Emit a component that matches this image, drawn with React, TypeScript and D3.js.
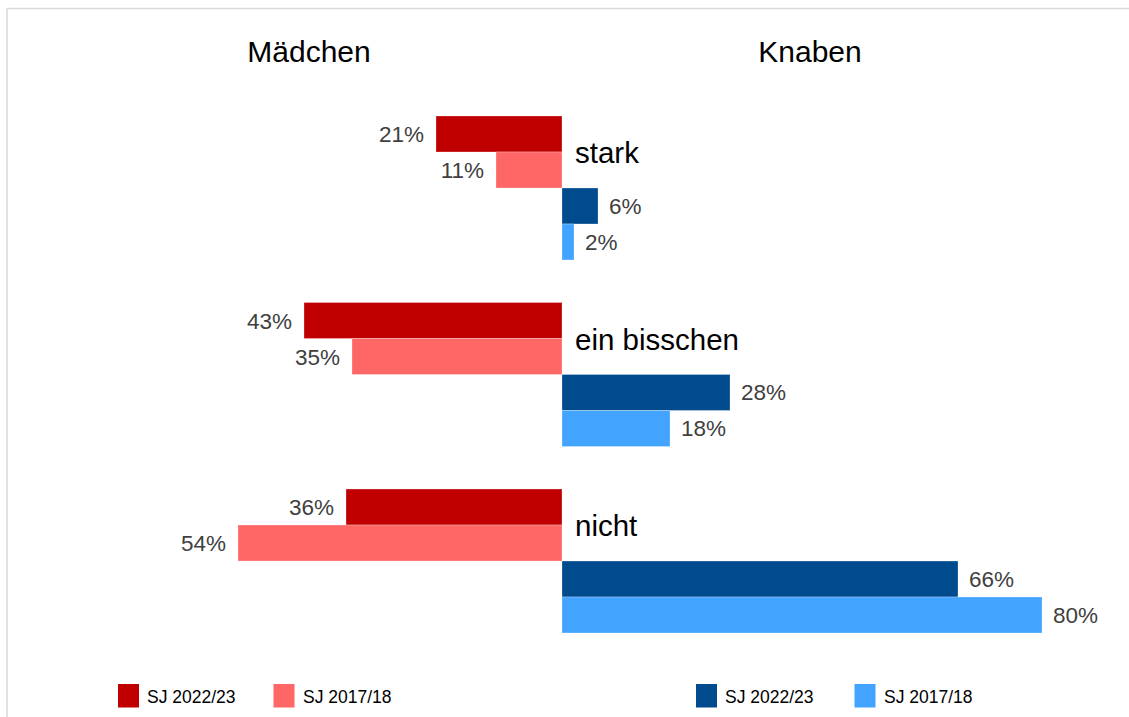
import React from "react";
import * as d3 from "d3";

const categories = ["stark", "ein bisschen", "nicht"];
const girls2223 = [21, 43, 36];
const girls1718 = [11, 35, 54];
const boys2223 = [6, 28, 66];
const boys1718 = [2, 18, 80];
const seriesNames = ["SJ 2022/23", "SJ 2017/18"];
const sideTitles = ["Mädchen", "Knaben"];

const W = 1129;
const H = 717;
const FONT = "'Liberation Sans', Arial, sans-serif";
const colors = { g1: "#C00000", g2: "#FF6666", b1: "#004A8E", b2: "#42A4FF" };

export default function App() {
  const x = d3.scaleLinear().domain([-80, 80]).range([82, 1042]);
  const y = d3.scaleBand<string>().domain(categories).range([116, 633]).paddingInner(0.228).paddingOuter(0);
  const barH = y.bandwidth() / 4;

  const rows = categories.map((c, i) => {
    const y0 = y(c)!;
    return [
      { v: -girls2223[i], color: colors.g1, y: y0 },
      { v: -girls1718[i], color: colors.g2, y: y0 + barH },
      { v: boys2223[i], color: colors.b1, y: y0 + 2 * barH },
      { v: boys1718[i], color: colors.b2, y: y0 + 3 * barH },
    ];
  });

  const legend = [
    { x: 118, tx: 147, color: colors.g1, label: seriesNames[0] },
    { x: 273.5, tx: 303, color: colors.g2, label: seriesNames[1] },
    { x: 696, tx: 725, color: colors.b1, label: seriesNames[0] },
    { x: 854.5, tx: 884, color: colors.b2, label: seriesNames[1] },
  ];

  return (
    <svg width={W} height={H} style={{ position: "absolute", left: 0, top: 0, fontFamily: FONT }}>
      <rect x={0} y={0} width={W} height={H} fill="#fff" />
      <line x1={7} x2={W} y1={8.5} y2={8.5} stroke="#d9d9d9" strokeWidth={1.5} />
      <line x1={7} x2={7} y1={8} y2={H} stroke="#d9d9d9" strokeWidth={1.5} />
      <text x={309} y={62} fontSize={30} textAnchor="middle" fill="#000">{sideTitles[0]}</text>
      <text x={810} y={62} fontSize={30} textAnchor="middle" fill="#000">{sideTitles[1]}</text>
      {rows.map((bars, i) => (
        <g key={i}>
          {bars.map((b, j) => {
            const x0 = Math.min(x(0), x(b.v));
            const w = Math.abs(x(b.v) - x(0));
            const left = b.v < 0;
            return (
              <g key={j}>
                <rect x={x0} y={b.y} width={w} height={barH} fill={b.color} stroke="#ffffff" strokeOpacity={0.35} strokeWidth={0.8} />
                <text
                  x={left ? x(b.v) - 12 : x(b.v) + 11}
                  y={b.y + barH / 2 + 8}
                  fontSize={22.5}
                  fill="#404040"
                  textAnchor={left ? "end" : "start"}
                >
                  {Math.abs(b.v)}%
                </text>
              </g>
            );
          })}
          <text x={575} y={y(categories[i])! + barH + 11} fontSize={29.5} fill="#000">{categories[i]}</text>
        </g>
      ))}
      {legend.map((l, i) => (
        <g key={i}>
          <rect x={l.x} y={684} width={21} height={23.5} fill={l.color} />
          <text x={l.tx} y={702.5} fontSize={17.5} fill="#000">{l.label}</text>
        </g>
      ))}
    </svg>
  );
}
